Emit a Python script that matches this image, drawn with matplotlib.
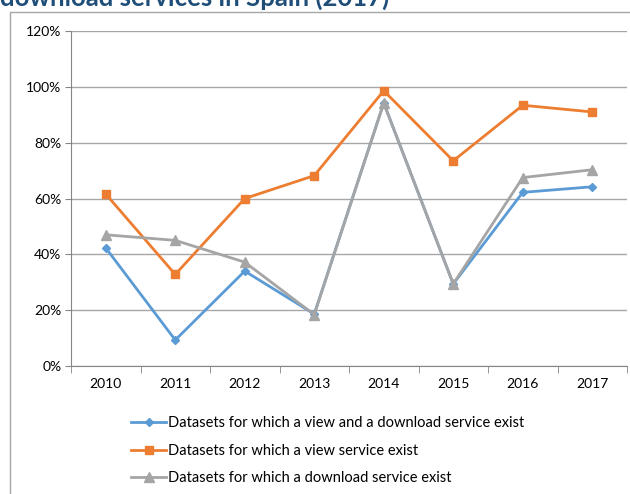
import matplotlib.pyplot as plt
from matplotlib.patches import Rectangle

plt.rcParams['font.family'] = ['Lato', 'DejaVu Sans']

years = ['2010', '2011', '2012', '2013', '2014', '2015', '2016', '2017']
view_and_download = [42.3, 9.3, 34.0, 18.6, 94.2, 29.4, 62.2, 64.2]
view_only = [61.6, 32.8, 60.0, 68.2, 98.6, 73.5, 93.4, 91.0]
download_only = [47.0, 45.0, 37.2, 18.4, 94.2, 29.4, 67.5, 70.3]

labels = ['Datasets for which a view and a download service exist',
          'Datasets for which a view service exist',
          'Datasets for which a download service exist']
colors = ['#5B9BD5', '#ED7D31', '#A5A5A5']
markers = ['D', 's', '^']
msizes = [4.5, 6, 6.5]

fig = plt.figure(figsize=(6.3, 4.94), dpi=100)

# border of the chart frame, partly outside the picture
fig.patches.append(Rectangle((10 / 630, -0.1), 1.2, 1 - 12 / 494 + 0.1,
                             transform=fig.transFigure, fill=False,
                             edgecolor='#A6A6A6', linewidth=1.0))

# title, clipped by the top edge like in the source
fig.text(0.0, 1 - 10 / 494, 'download services in Spain (2017)', color='#1F4E79',
         fontsize=18.5, fontweight='bold', va='bottom', ha='left')

ax = fig.add_axes([71 / 630, 1 - 366 / 494, 556 / 630, 335 / 494])

x = list(range(len(years)))
for vals, lab, c, m, ms in zip([view_and_download, view_only, download_only],
                               labels, colors, markers, msizes):
    ax.plot(x, vals, color=c, marker=m, markersize=ms, linewidth=2,
            label=lab, zorder=3)

ax.set_xlim(-0.5, len(years) - 0.5)
ax.set_ylim(0, 120)
ax.set_yticks(range(0, 121, 20))
ax.set_yticklabels([f'{v}%' for v in range(0, 121, 20)])
ax.set_xticks(x)
ax.set_xticklabels(years)
ax.set_xticks([i - 0.5 for i in range(len(years) + 1)], minor=True)
ax.tick_params(axis='x', which='major', length=0, pad=9, labelsize=10)
ax.tick_params(axis='x', which='minor', length=5, color='#868686')
ax.tick_params(axis='y', length=4, color='#868686', labelsize=10, pad=3)

ax.grid(axis='y', color='#A6A6A6', linewidth=1)
ax.set_axisbelow(True)
for s in ['top', 'right']:
    ax.spines[s].set_visible(False)
ax.spines['left'].set_color('#868686')
ax.spines['bottom'].set_color('#868686')

handles, hl = ax.get_legend_handles_labels()
fig.legend(handles, hl, loc='upper left', bbox_to_anchor=(124 / 630, 1 - 409 / 494),
           frameon=False, fontsize=10.5, handlelength=2.4, handletextpad=0.1,
           labelspacing=0.92, borderpad=0)

fig.savefig('out.png', dpi=100)
